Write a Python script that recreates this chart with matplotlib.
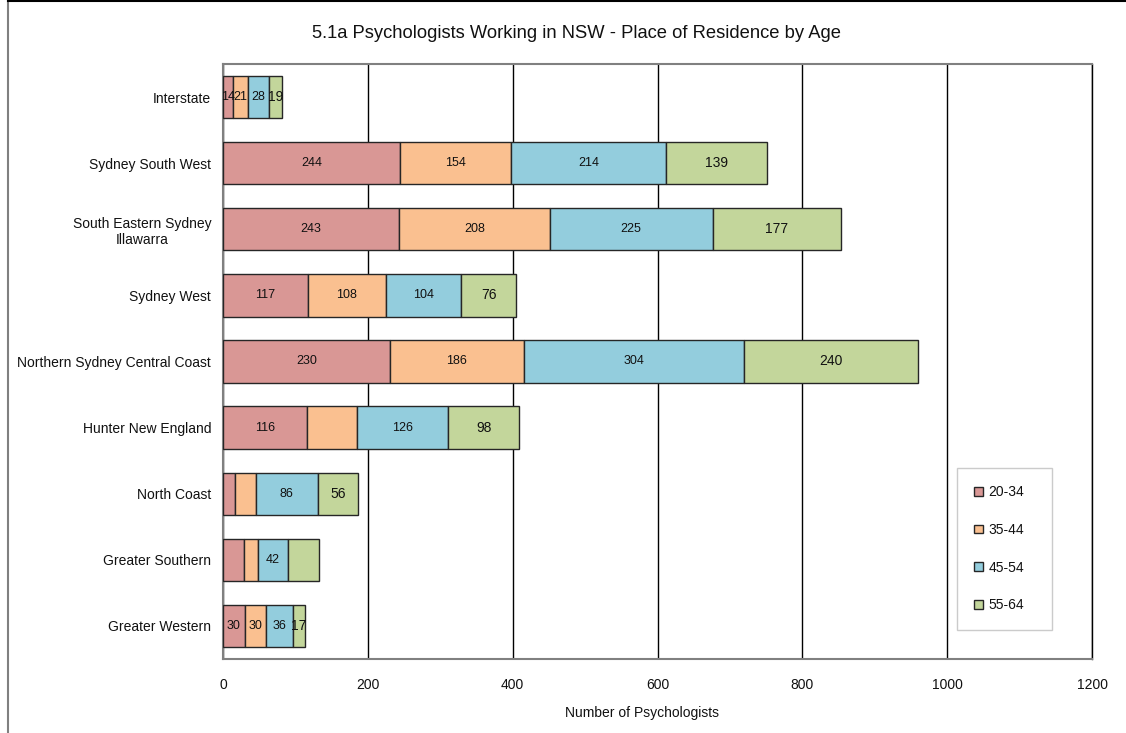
import matplotlib.pyplot as plt
import numpy as np
from matplotlib.lines import Line2D

plt.rcParams['font.family'] = ['Liberation Sans', 'DejaVu Sans']

regions = ["Interstate", "Sydney South West", "South Eastern Sydney\nIllawarra",
           "Sydney West", "Northern Sydney Central Coast", "Hunter New England",
           "North Coast", "Greater Southern", "Greater Western"]
ages = ["20-34", "35-44", "45-54", "55-64"]
a20_34 = [14, 244, 243, 117, 230, 116, 16, 29, 30]
a35_44 = [21, 154, 208, 108, 186, 69, 29, 19, 30]
a45_54 = [28, 214, 225, 104, 304, 126, 86, 42, 36]
a55_64 = [19, 139, 177, 76, 240, 98, 56, 43, 17]
# segments that carry no label in the original
hidden = {(0, 6), (1, 6), (0, 7), (1, 7), (3, 7), (1, 5)}

colors = ["#D99795", "#FAC090", "#93CDDD", "#C3D69B"]
series = [a20_34, a35_44, a45_54, a55_64]

fig = plt.figure(figsize=(11.26, 7.33), dpi=100)
ax = fig.add_axes([223/1126, 1-659/733, (1092-223)/1126, (659-64)/733])

y = np.arange(len(regions))
left = np.zeros(len(regions))
for i, (vals, c, lab) in enumerate(zip(series, colors, ages)):
    bars = ax.barh(y, vals, left=left, height=0.64, color=c, edgecolor="#262626",
                   linewidth=1.0, label=lab, zorder=3)
    for j, b in enumerate(bars):
        if (i, j) in hidden:
            continue
        ax.text(left[j] + vals[j] / 2, y[j], str(vals[j]), ha="center", va="center",
                fontsize=10 if i == 3 else 9, color="#111111", zorder=4)
    left += np.array(vals)

ax.set_ylim(len(regions) - 0.5, -0.5)
ax.set_xlim(0, 1200)
ax.set_xticks(range(0, 1201, 200))
ax.set_yticks(y)
ax.set_yticklabels(regions, multialignment="center")
ax.tick_params(axis="both", length=0, labelsize=10, colors="#111111")
ax.tick_params(axis="x", pad=14)
ax.tick_params(axis="y", pad=8.5)
ax.xaxis.grid(True, color="black", linewidth=1.0, zorder=0)
ax.set_axisbelow(True)
for s in ["top", "left", "bottom"]:
    ax.spines[s].set_color("#808080")
    ax.spines[s].set_linewidth(1.5)
ax.spines["right"].set_color("black")
ax.spines["right"].set_linewidth(1.0)

leg = ax.legend(loc="upper left",
                bbox_to_anchor=((957-223)/869, (659-468)/595 - 0.01, 95/869, 0.01),
                mode="expand", borderaxespad=0, frameon=True, fancybox=False, fontsize=10,
                handlelength=0.6, handleheight=0.6, handletextpad=0.4, labelspacing=1.7,
                borderpad=1.25)
leg.get_frame().set_edgecolor("#BFBFBF")
leg.get_frame().set_linewidth(1.0)
for t in leg.get_texts():
    t.set_color("#111111")

fig.text(577/1126, 1-34/733, "5.1a Psychologists Working in NSW - Place of Residence by Age",
         ha="center", va="center", fontsize=13.2, color="#111111")
fig.text(642/1126, 1-713/733, "Number of Psychologists", ha="center", va="center",
         fontsize=10, color="#111111")

# outer chart frame (cropped at right and bottom)
fig.add_artist(Line2D([8/1126, 8/1126], [0, 1-1/733], color="#808080", linewidth=1.5,
                      transform=fig.transFigure))
fig.add_artist(Line2D([8/1126, 1], [1-1/733, 1-1/733], color="black", linewidth=1.5,
                      transform=fig.transFigure))

fig.savefig("out.png", dpi=100)
